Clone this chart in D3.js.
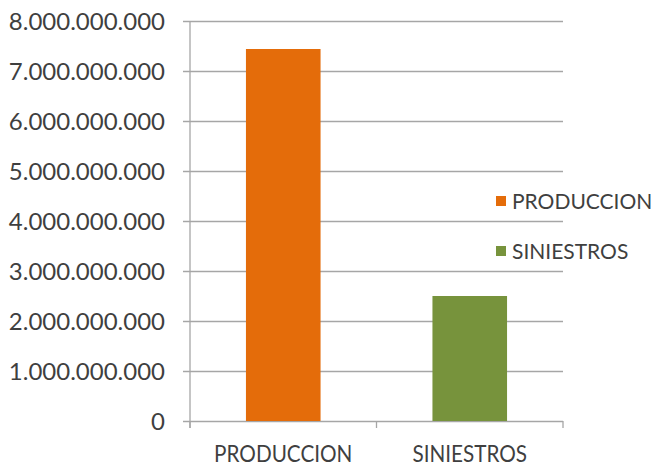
<!DOCTYPE html>
<html>
<head>
<meta charset="utf-8">
<script src="https://cdn.jsdelivr.net/npm/d3@7"></script>
<style>
  html, body { margin: 0; padding: 0; background: #fff; }
  svg { display: block; }
  text { font-family: Lato, "Open Sans", sans-serif; fill: #3f3f3f; }
</style>
</head>
<body>
<svg id="chart" width="662" height="467"></svg>
<script>
const categories = ["PRODUCCION", "SINIESTROS"];
const values = [7440000000, 2500000000];
const colors = ["#E46C0A", "#77933C"];
const yTicks = [0, 1e9, 2e9, 3e9, 4e9, 5e9, 6e9, 7e9, 8e9];

const W = 662, H = 467;
const m = { left: 190, right: 99, top: 21, bottom: 46 };
const svg = d3.select("#chart");

const x = d3.scaleBand().domain(categories).range([m.left, W - m.right]).paddingInner(0.6).paddingOuter(0.3);
const xb = d3.scaleBand().domain(categories).range([m.left, W - m.right]);
const y = d3.scaleLinear().domain([0, 8e9]).range([H - m.bottom, m.top]);

const loc = d3.formatLocale({ decimal: ",", thousands: ".", grouping: [3], currency: ["", ""] });
const fmt = loc.format(",");

function condense(sel, f) {
  sel.each(function () {
    const L = this.getComputedTextLength();
    d3.select(this).attr("textLength", L * f).attr("lengthAdjust", "spacingAndGlyphs");
  });
}

// gridlines + y labels
const yAxis = d3.axisLeft(y).tickValues(yTicks).tickFormat(fmt)
  .tickSize(-(W - m.right - m.left)).tickSizeOuter(0).tickPadding(25);
const gy = svg.append("g").attr("transform", `translate(${m.left},0)`).call(yAxis);
gy.select(".domain").remove();
gy.selectAll(".tick line").attr("stroke", "#a6a6a6").attr("stroke-width", 1.3).attr("x1", -7);
gy.selectAll(".tick text").attr("font-size", 24).attr("fill", "#3f3f3f").attr("dy", "0.36em")
  .attr("font-family", "Lato, sans-serif");

// bars
svg.append("g").selectAll("rect").data(categories).join("rect")
  .attr("x", d => x(d))
  .attr("width", x.bandwidth())
  .attr("y", (d, i) => y(values[i]))
  .attr("height", (d, i) => y(0) - y(values[i]))
  .attr("fill", (d, i) => colors[i]);

// y axis line
svg.append("line").attr("x1", m.left).attr("x2", m.left)
  .attr("y1", m.top).attr("y2", y(0) + 7)
  .attr("stroke", "#a6a6a6").attr("stroke-width", 1.3);

// x axis ticks
const xTickPos = [m.left, ...categories.map(c => xb(c) + xb.bandwidth())];
svg.append("g").selectAll("line").data(xTickPos).join("line")
  .attr("x1", d => d).attr("x2", d => d)
  .attr("y1", y(0)).attr("y2", y(0) + 7)
  .attr("stroke", "#a6a6a6").attr("stroke-width", 1.3);

svg.append("g").selectAll("text").data(categories).join("text")
  .attr("x", d => xb(d) + xb.bandwidth() / 2)
  .attr("y", 462)
  .attr("text-anchor", "middle")
  .attr("font-size", 23)
  .text(d => d)
  .call(condense, 0.9);

// legend
const lg = svg.append("g");
categories.forEach((c, i) => {
  const cy = 201 + i * 50;
  lg.append("rect").attr("x", 496).attr("y", cy - 5).attr("width", 10).attr("height", 10).attr("fill", colors[i]);
  lg.append("text").attr("x", 512).attr("y", cy).attr("dy", "0.36em").attr("font-size", 21).text(c);
});
</script>
</body>
</html>
